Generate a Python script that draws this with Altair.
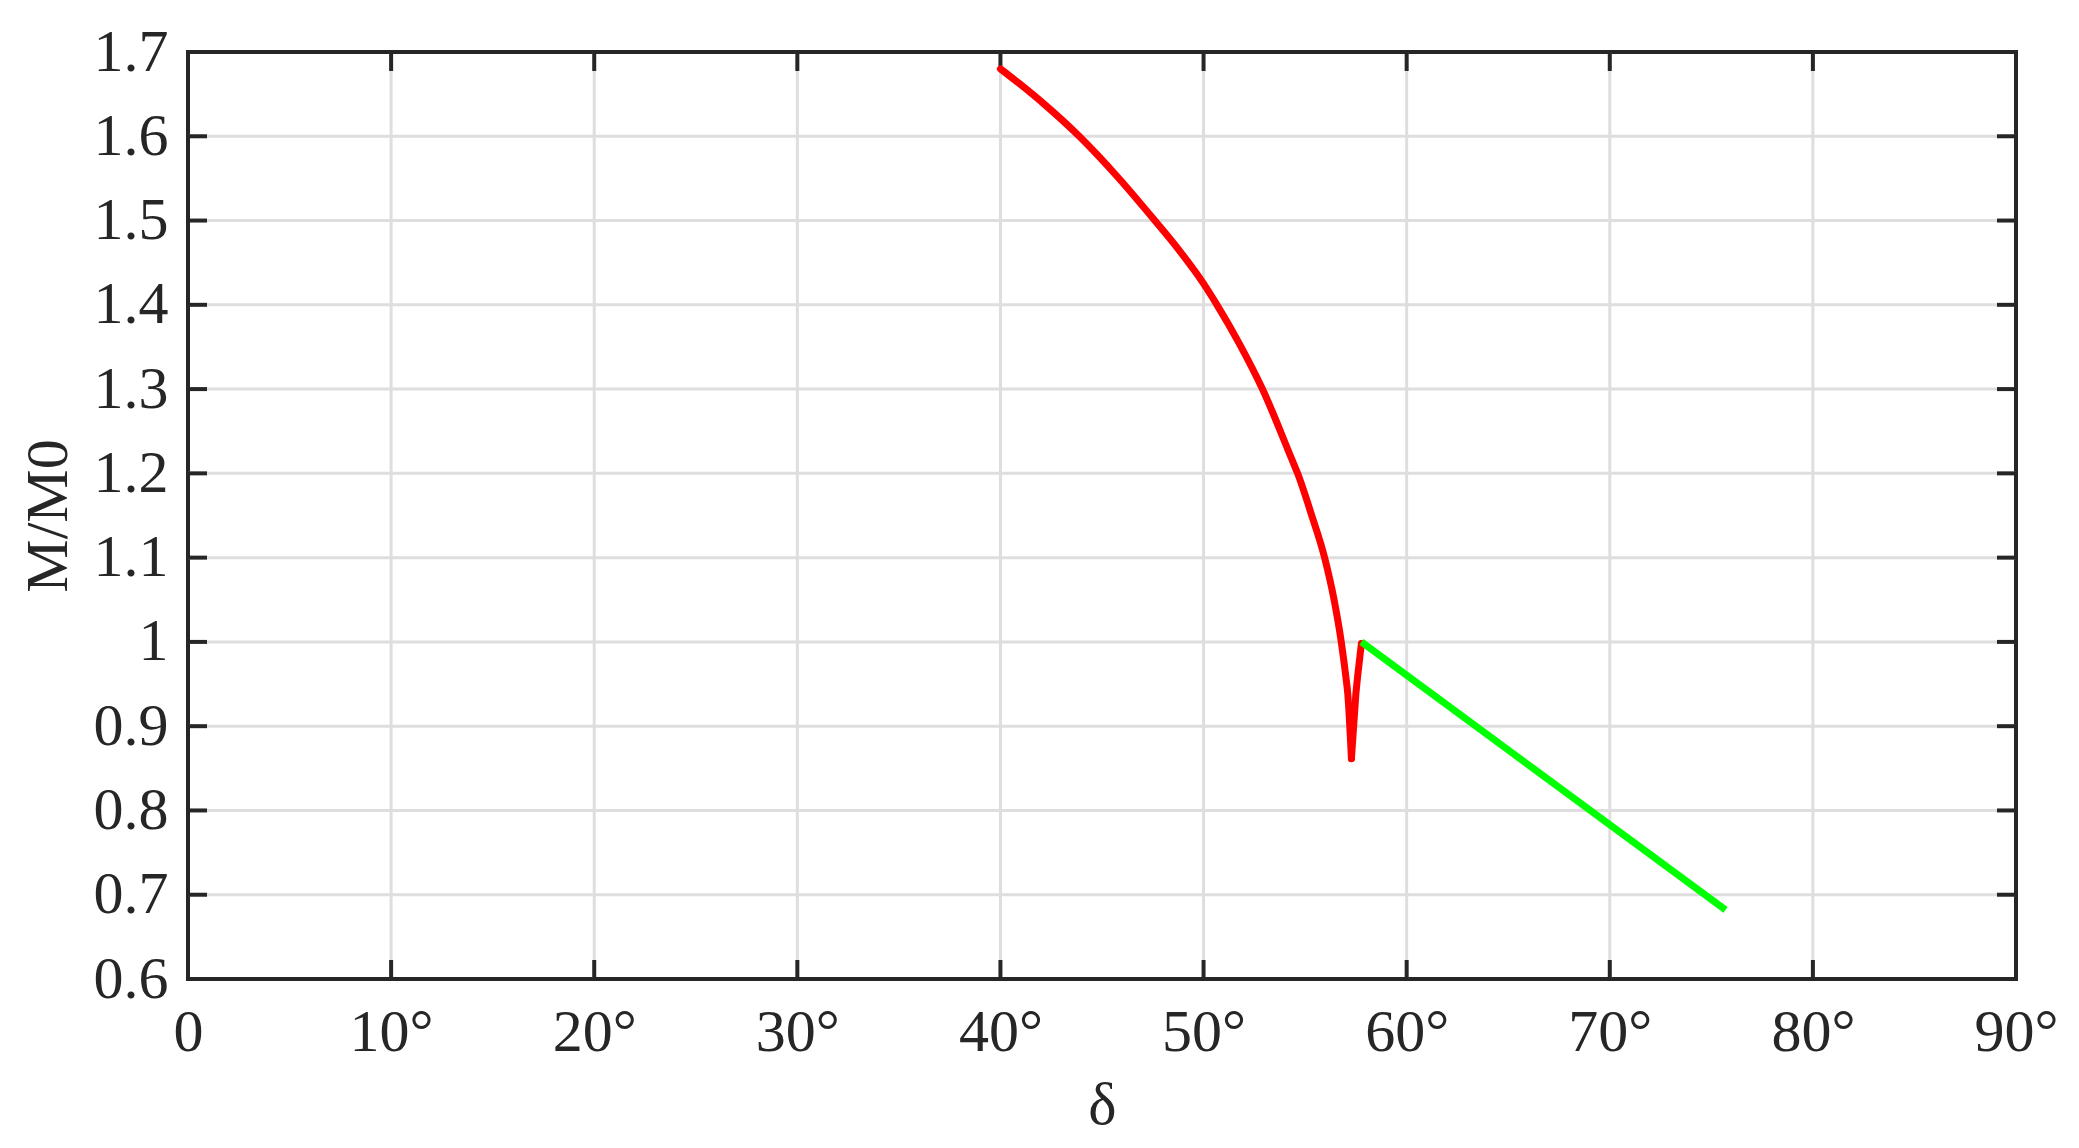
import altair as alt
import pandas as pd

# ---- data ----
red_delta = [40.0, 40.93, 42.16, 43.88, 45.77, 47.60, 48.80, 50.0, 50.66, 51.76,
             52.90, 54.30, 54.63, 55.30, 55.96, 56.43, 56.78, 57.01, 57.10, 57.28,
             57.50, 57.58, 57.77]
red_m = [1.680, 1.6625, 1.638, 1.600, 1.5517, 1.500, 1.4647, 1.4252, 1.400, 1.354,
         1.300, 1.2194, 1.200, 1.152, 1.100, 1.0495, 1.000, 0.958, 0.9386, 0.8615,
         0.9386, 0.958, 0.998]
green_delta = [57.77, 75.70]
green_m = [1.000, 0.682]

x_ticks = [0, 10, 20, 30, 40, 50, 60, 70, 80, 90]
y_ticks = [0.6, 0.7, 0.8, 0.9, 1.0, 1.1, 1.2, 1.3, 1.4, 1.5, 1.6, 1.7]

X_MIN, X_MAX = 0, 90
Y_MIN, Y_MAX = 0.6, 1.7

W, H = 1828, 927
TICK_PX = 19
TX = TICK_PX / W * (X_MAX - X_MIN)
TY = TICK_PX / H * (Y_MAX - Y_MIN)

FONT = "Liberation Serif"
FS = 60
INK = "#262626"

# split the red curve at its minimum: smooth descending branch, straight rising branch
i_min = red_m.index(min(red_m))
red_down = pd.DataFrame({"d": red_delta[:i_min + 1], "m": red_m[:i_min + 1]})
red_up = pd.DataFrame({"d": red_delta[i_min:], "m": red_m[i_min:]})
green_df = pd.DataFrame({"d": green_delta, "m": green_m})

grid_rows = []
tick_rows = []
for xt in x_ticks[1:-1]:
    grid_rows.append({"x": xt, "y": Y_MIN, "x2": xt, "y2": Y_MAX})
    tick_rows.append({"x": xt, "y": Y_MIN, "x2": xt, "y2": Y_MIN + TY})
    tick_rows.append({"x": xt, "y": Y_MAX, "x2": xt, "y2": Y_MAX - TY})
for yt in y_ticks[1:-1]:
    grid_rows.append({"x": X_MIN, "y": yt, "x2": X_MAX, "y2": yt})
    tick_rows.append({"x": X_MIN, "y": yt, "x2": X_MIN + TX, "y2": yt})
    tick_rows.append({"x": X_MAX, "y": yt, "x2": X_MAX - TX, "y2": yt})
grid_df = pd.DataFrame(grid_rows)
tick_df = pd.DataFrame(tick_rows)

xscale = alt.Scale(domain=[X_MIN, X_MAX], nice=False, zero=False)
yscale = alt.Scale(domain=[Y_MIN, Y_MAX], nice=False, zero=False)

xaxis = alt.Axis(
    values=x_ticks, grid=False, ticks=False, domain=False,
    labelExpr="datum.value == 0 ? '0' : datum.value + '°'",
    labelFont=FONT, labelFontSize=FS, labelColor=INK, labelPadding=24,
    labelFlush=False, labelOverlap=False,
    title="δ", titleFont=FONT, titleFontSize=FS, titleFontWeight="normal",
    titleColor=INK, titlePadding=14,
)
yaxis = alt.Axis(
    values=y_ticks, grid=False, ticks=False, domain=False, format="~g",
    labelFont=FONT, labelFontSize=FS, labelColor=INK, labelPadding=20,
    labelFlush=False, labelOverlap=False,
    title="M/M0", titleFont=FONT, titleFontSize=FS, titleFontWeight="normal",
    titleColor=INK, titlePadding=14,
)

grid = alt.Chart(grid_df).mark_rule(color="#dedede", strokeWidth=3).encode(
    x=alt.X("x:Q", scale=xscale, axis=xaxis),
    y=alt.Y("y:Q", scale=yscale, axis=yaxis),
    x2="x2:Q", y2="y2:Q",
)

ticks = alt.Chart(tick_df).mark_rule(color=INK, strokeWidth=4).encode(
    x=alt.X("x:Q", scale=xscale),
    y=alt.Y("y:Q", scale=yscale),
    x2="x2:Q", y2="y2:Q",
)

red1 = alt.Chart(red_down).mark_line(
    color="#ff0000", strokeWidth=7, interpolate="monotone", strokeCap="round"
).encode(
    x=alt.X("d:Q", scale=xscale),
    y=alt.Y("m:Q", scale=yscale),
)
red2 = alt.Chart(red_up).mark_line(
    color="#ff0000", strokeWidth=7, strokeCap="round"
).encode(
    x=alt.X("d:Q", scale=xscale),
    y=alt.Y("m:Q", scale=yscale),
)
green = alt.Chart(green_df).mark_line(color="#00ff00", strokeWidth=7).encode(
    x=alt.X("d:Q", scale=xscale),
    y=alt.Y("m:Q", scale=yscale),
)

chart = alt.layer(grid, ticks, red1, red2, green).properties(
    width=W, height=H,
    autosize="none",
    background="white",
    padding={"left": 180, "top": 44, "right": 50, "bottom": 156},
).configure_view(
    stroke=INK, strokeWidth=4, fill="white"
)

chart.save("out.html", embed_options={"renderer": "svg", "actions": False})
